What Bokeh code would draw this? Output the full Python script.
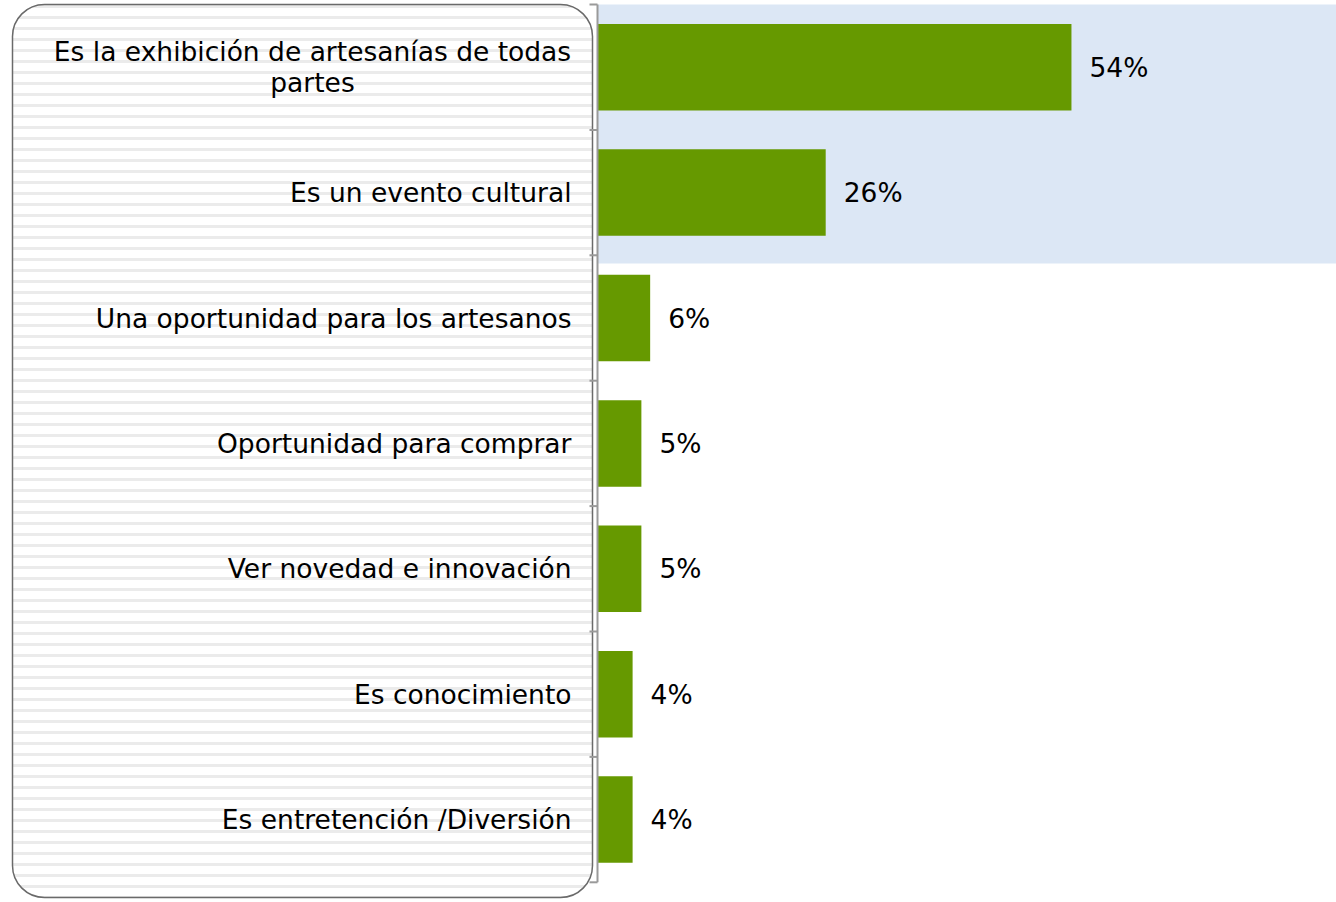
from bokeh.plotting import figure
from bokeh.models import Range1d, BoxAnnotation, ColumnDataSource
from bokeh.core.properties import value
from bokeh.embed import file_html
from bokeh.resources import INLINE

# ---- data ----
categories = [
    "Es la exhibición de artesanías de todas\npartes",
    "Es un evento cultural",
    "Una oportunidad para los artesanos",
    "Oportunidad para comprar",
    "Ver novedad e innovación",
    "Es conocimiento",
    "Es entretención /Diversión",
]
values = [54, 26, 6, 5, 5, 4, 4]
value_labels = ["54%", "26%", "6%", "5%", "5%", "4%", "4%"]
label_align = ["center", "right", "right", "right", "right", "right", "right"]

# ---- layout (page pixel -> data helpers) ----
OX, OY = 0, 0       # page offset of the figure
W, H = 1336, 902
SX = 8.777          # px per percent
SY = 125.4          # px per category band
X0 = -(597 - OX) / SX
X1 = X0 + W / SX
Y_TOP = (OY - 66.7) / SY
Y_BOT = (OY + H - 66.7) / SY

def px_x(px):
    return X0 + (px - OX) / SX

def px_y(py):
    return (py - 66.7) / SY

p = figure(width=W, height=H, x_range=Range1d(X0, X1), y_range=Range1d(Y_BOT, Y_TOP),
           output_backend="svg", toolbar_location=None, min_border=0,
           x_axis_type=None, y_axis_type=None)
p.grid.visible = False
p.outline_line_color = None
p.background_fill_color = "white"
p.border_fill_color = "white"

idx = list(range(len(categories)))

# light blue highlight behind the top two categories
p.quad(left=[0], right=[X1], top=[px_y(4)], bottom=[px_y(263)],
       fill_color="#dce7f5", line_color=None)

# rounded, striped label panel
box = BoxAnnotation(left=px_x(12), right=px_x(592), top=px_y(4), bottom=px_y(897),
                    fill_color="white", fill_alpha=1.0,
                    line_color="#6a6a6a", line_width=1.5, line_alpha=1.0,
                    hatch_pattern="horizontal_line", hatch_color="#ebebeb",
                    hatch_scale=11, hatch_weight=3, hatch_alpha=1.0,
                    border_radius=32, level="underlay")
p.add_layout(box)

# bars
src = ColumnDataSource(dict(y=idx, v=values, lab=value_labels, cat=categories,
                            align=label_align,
                            cx=[px_x(312)] + [px_x(571)] * 6))
p.hbar(y="y", left=0, right="v", height=0.69, source=src,
       fill_color="#669900", line_color=None)

# axis line and ticks
p.segment(x0=[0], x1=[0], y0=[-0.5], y1=[len(categories) - 0.5],
          line_color="#9a9a9a", line_width=2)
ticks = [i - 0.5 for i in range(len(categories) + 1)]
p.segment(x0=[-8 / SX] * len(ticks), x1=[0] * len(ticks), y0=ticks, y1=ticks,
          line_color="#9a9a9a", line_width=2)

# value labels
p.text(x="v", y="y", text="lab", source=src, x_offset=18,
       text_align="left", text_baseline="middle",
       text_font=value("DejaVu Sans"), text_font_size=value("26.5px"),
       text_color="#000000")

# category labels
p.text(x="cx", y="y", text="cat", source=src,
       text_align="align", text_baseline="middle", text_line_height=1.02,
       text_font=value("DejaVu Sans"), text_font_size=value("26.5px"),
       text_color="#000000")

open("out.html", "w").write(file_html(p, INLINE))
